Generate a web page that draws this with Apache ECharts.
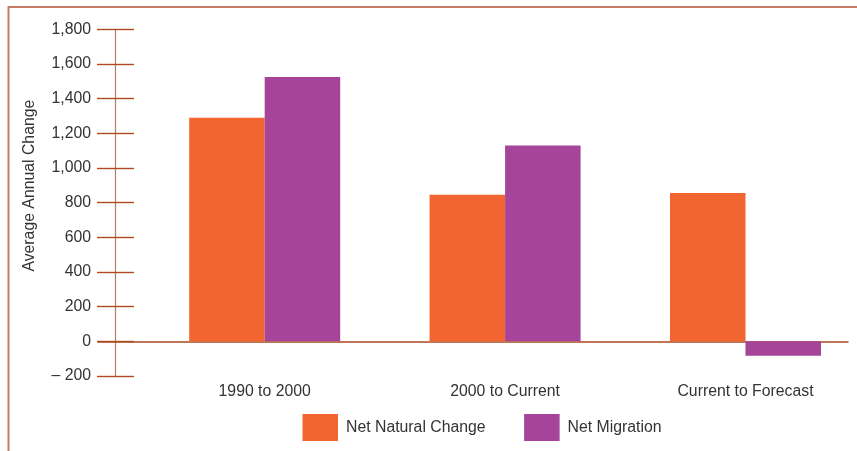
<!DOCTYPE html>
<html>
<head>
<meta charset="utf-8">
<script src="https://cdn.jsdelivr.net/npm/echarts@6/dist/echarts.min.js"></script>
<style>
  html, body { margin: 0; padding: 0; background: #fff; }
  #chart { width: 857px; height: 451px; }
</style>
</head>
<body>
<div id="chart"></div>
<script>
// Population change components by period
const periods = ['1990 to 2000', '2000 to Current', 'Current to Forecast'];
const netNaturalChange = [1290, 845, 855];
const netMigration = [1525, 1130, -83];
const yTicks = { min: -200, max: 1800, step: 200 };

const FONT = '"Liberation Sans", Arial, Helvetica, sans-serif';
const TEXT = '#333333';
const ORANGE = '#f26531';
const PURPLE = '#a54499';
const TICK = '#b04a22';
const FS = 15.8;

// bars sit at integer positions on a numeric x scale (one per period)
const toPairs = arr => arr.map((v, i) => [i, v]);

function fmtY(v) {
  const s = Math.abs(v).toLocaleString('en-US');
  return v < 0 ? '\u2013 ' + s : s;
}

const chart = echarts.init(document.getElementById('chart'), null, { renderer: 'canvas' });

const yBase = {
  type: 'value',
  position: 'left',
  offset: -17,
  min: yTicks.min,
  max: yTicks.max,
  interval: yTicks.step,
  splitLine: { show: false }
};

chart.setOption({
  animation: false,
  backgroundColor: '#ffffff',
  textStyle: { fontFamily: FONT },
  graphic: [{
    type: 'rect',
    left: 6, top: 4.5,
    shape: { width: 900, height: 500 },
    style: { fill: 'none', stroke: '#c47c64', lineWidth: 2 },
    silent: true
  }],
  grid: { left: 98, right: 9, top: 29.3, bottom: 75 },
  legend: {
    left: 302.5, top: 414,
    padding: 0,
    icon: 'rect',
    itemWidth: 35.5, itemHeight: 27,
    itemGap: 38.5,
    textStyle: { color: TEXT, fontSize: FS, fontFamily: FONT, padding: [0, 0, 0, 3] },
    data: ['Net Natural Change', 'Net Migration']
  },
  xAxis: {
    type: 'value',
    min: -0.6934,
    max: 2.4264,
    splitLine: { show: false },
    axisTick: { show: false },
    axisLine: { show: true, onZero: true, lineStyle: { color: '#a94a1e', width: 1.5 } },
    axisLabel: {
      customValues: periods.map((_, i) => i),
      formatter: v => periods[Math.round(v)] || '',
      margin: 8,
      color: TEXT, fontSize: FS, fontFamily: FONT
    }
  },
  yAxis: [
    Object.assign({}, yBase, {
      name: 'Average Annual Change',
      nameLocation: 'middle',
      nameGap: 77,
      nameTextStyle: { color: TEXT, fontSize: FS, fontFamily: FONT, padding: [0, 0, 0, 34] },
      axisLine: { show: true, onZero: false, lineStyle: { color: '#b87a66', width: 1.2 } },
      axisTick: { show: true, inside: false, length: 18, lineStyle: { color: TICK, width: 1.4 } },
      axisLabel: { margin: 24, color: TEXT, fontSize: FS, fontFamily: FONT, formatter: fmtY }
    }),
    Object.assign({}, yBase, {
      axisLine: { show: false, onZero: false },
      axisTick: { show: true, inside: true, length: 19, lineStyle: { color: TICK, width: 1.4 } },
      axisLabel: { show: false }
    })
  ],
  series: [
    {
      name: 'Net Natural Change',
      type: 'bar',
      barWidth: 75.5,
      barGap: '0%',
      itemStyle: { color: ORANGE },
      data: toPairs(netNaturalChange)
    },
    {
      name: 'Net Migration',
      type: 'bar',
      barWidth: 75.5,
      barGap: '0%',
      itemStyle: { color: PURPLE },
      data: toPairs(netMigration)
    }
  ]
});
</script>
</body>
</html>
